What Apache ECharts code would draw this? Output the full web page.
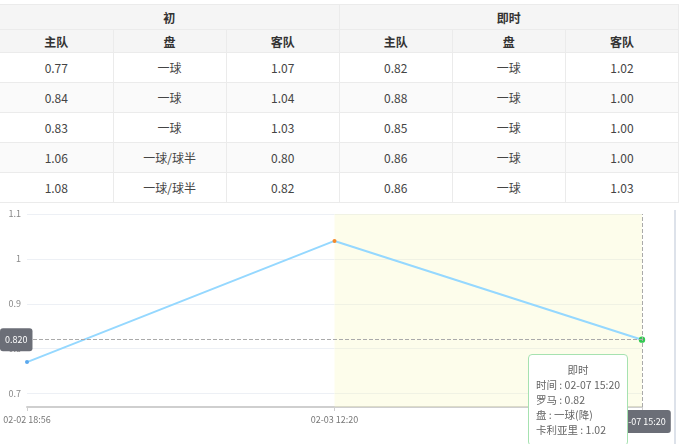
<!DOCTYPE html>
<html>
<head>
<meta charset="utf-8">
<script src="https://cdn.jsdelivr.net/npm/echarts@6/dist/echarts.min.js"></script>
<style>
  html, body { margin: 0; padding: 0; background: #fff; width: 679px; height: 444px; overflow: hidden; }
  body { position: relative; font-family: "Noto Sans CJK SC", "Noto Sans", sans-serif; }
  table { position: absolute; left: 0; top: 4px; width: 679px; border-collapse: collapse; table-layout: fixed; font-size: 12px; color: #444; }
  td, th { border: 1px solid #ebebeb; text-align: center; padding: 0; }
  th { background: #f5f5f5; color: #333; font-weight: bold; }
  tr.h1 th { height: 24px; }
  tr.h2 th { height: 22px; }
  tbody td { height: 29px; }
  tbody tr:nth-child(even) td { background: #fafafa; }
  table tr > *:first-child { border-left: none; }
  #chart { position: absolute; left: 0; top: 204px; width: 679px; height: 240px; }
  #edge { position: absolute; left: 674px; top: 210px; width: 2px; height: 234px; background: #dde2ea; }
</style>
</head>
<body>
<table id="odds">
  <thead>
    <tr class="h1"><th colspan="3">初</th><th colspan="3">即时</th></tr>
    <tr class="h2"><th>主队</th><th>盘</th><th>客队</th><th>主队</th><th>盘</th><th>客队</th></tr>
  </thead>
  <tbody id="tbody"></tbody>
</table>
<div id="chart"></div>
<div id="edge"></div>
<script>
// ---- table data ----
var initHome = ['0.77', '0.84', '0.83', '1.06', '1.08'];
var initLine = ['一球', '一球', '一球', '一球/球半', '一球/球半'];
var initAway = ['1.07', '1.04', '1.03', '0.80', '0.82'];
var liveHome = ['0.82', '0.88', '0.85', '0.86', '0.86'];
var liveLine = ['一球', '一球', '一球', '一球', '一球'];
var liveAway = ['1.02', '1.00', '1.00', '1.00', '1.03'];

// ---- chart data ----
var times = ['02-02 18:56', '02-03 12:20', '02-07 15:20'];
var homeValues = [0.77, 1.04, 0.82];
var awayValues = [1.07, 0.80, 1.02];
var lineValues = ['一球', '一球/球半', '一球(降)'];
var phases = ['初', '初', '即时'];
var pointColors = ['#5ba8ee', '#f5892a', '#2db84a'];
var homeName = '罗马';
var awayName = '卡利亚里';

var FONT = '"Noto Sans CJK SC", "Noto Sans", sans-serif';

var tb = document.getElementById('tbody');
for (var i = 0; i < initHome.length; i++) {
  var tr = document.createElement('tr');
  [initHome[i], initLine[i], initAway[i], liveHome[i], liveLine[i], liveAway[i]].forEach(function (v) {
    var td = document.createElement('td');
    td.textContent = v;
    tr.appendChild(td);
  });
  tb.appendChild(tr);
}

var chart = echarts.init(document.getElementById('chart'));
var option = {
  animation: false,
  textStyle: { fontFamily: FONT },
  grid: { left: 27, right: 37, top: 10, bottom: 37 },
  tooltip: {
    trigger: 'axis',
    triggerOn: 'none',
    alwaysShowContent: true,
    position: function () { return [528, 150]; },
    backgroundColor: '#fff',
    borderColor: '#a6e2b0',
    borderWidth: 1,
    padding: [7, 7, 8, 7],
    extraCssText: 'box-shadow:none;border-radius:4px;',
    textStyle: { fontSize: 10.5, color: '#666', fontFamily: FONT },
    axisPointer: {
      type: 'cross',
      lineStyle: { type: 'dashed', color: '#aaa', width: 1 },
      crossStyle: { type: 'dashed', color: '#aaa', width: 1 },
      label: { fontSize: 9, padding: [7, 5, 7, 5], backgroundColor: '#6b6e77', color: '#fff', fontFamily: FONT }
    },
    formatter: function (params) {
      var k = params[0].dataIndex;
      return '<div style="line-height:15px;font-size:10.5px;color:#666;font-family:' + FONT.replace(/"/g, "'") + '">' +
        '<div style="text-align:center">' + phases[k] + '</div>' +
        '<div>时间 : ' + times[k] + '</div>' +
        '<div>' + homeName + ' : ' + homeValues[k].toFixed(2) + '</div>' +
        '<div>盘 : ' + lineValues[k] + '</div>' +
        '<div>' + awayName + ' : ' + awayValues[k].toFixed(2) + '</div>' +
        '</div>';
    }
  },
  xAxis: {
    type: 'category',
    boundaryGap: false,
    data: times,
    axisLine: { lineStyle: { color: '#cfcfcf', width: 2 } },
    axisTick: { length: 4, lineStyle: { color: '#cfcfcf' } },
    axisLabel: { fontSize: 9, color: '#777', margin: 8 },
    splitLine: { show: false }
  },
  yAxis: {
    type: 'value',
    min: 0.67,
    max: 1.1,
    axisLine: { show: false },
    axisTick: { show: false },
    axisLabel: { fontSize: 9, color: '#888', margin: 6, showMinLabel: false },
    splitLine: { lineStyle: { color: '#edf0f5' } }
  },
  series: [{
    type: 'line',
    data: homeValues.map(function (v, k) {
      return { value: v, itemStyle: { color: pointColors[k] } };
    }),
    symbol: 'circle',
    symbolSize: 4,
    lineStyle: { color: '#88c5fa', width: 2 },
    emphasis: { scale: 1.6 },
    markArea: {
      silent: true,
      itemStyle: { color: 'rgba(250,250,190,0.3)' },
      data: [[{ xAxis: times[1] }, { xAxis: times[2] }]]
    }
  }]
};
chart.setOption(option);
chart.dispatchAction({ type: 'showTip', seriesIndex: 0, dataIndex: 2 });
</script>
</body>
</html>
